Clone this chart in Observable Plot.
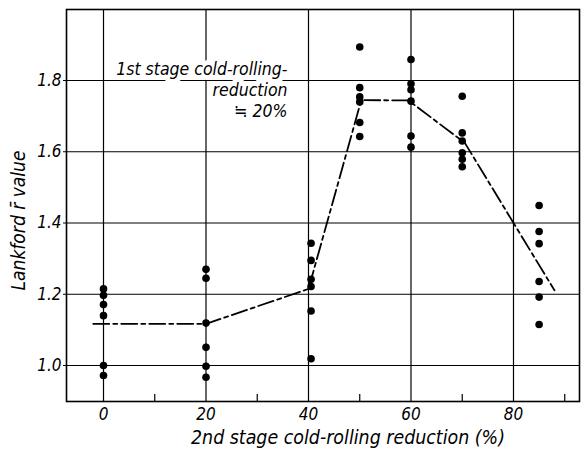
<!DOCTYPE html>
<html><head><meta charset="utf-8">
<script src="https://cdn.jsdelivr.net/npm/d3@7"></script>
<script src="https://cdn.jsdelivr.net/npm/@observablehq/plot@0.6"></script>
<style>body{margin:0;background:#fff}</style>
</head><body><div id="chart"></div>
<script>
// ---- data ----
const reductions = [0, 20, 40.5, 50, 60, 70, 85];
const rValues = [
  [1.215, 1.197, 1.171, 1.140, 1.000, 0.972],
  [1.270, 1.245, 1.119, 1.051, 0.998, 0.967],
  [1.343, 1.295, 1.242, 1.222, 1.153, 1.019],
  [1.894, 1.780, 1.754, 1.740, 1.682, 1.643],
  [1.859, 1.791, 1.774, 1.742, 1.644, 1.613],
  [1.756, 1.653, 1.630, 1.597, 1.579, 1.558],
  [1.449, 1.376, 1.342, 1.236, 1.192, 1.115]
];
const trendX = [-2, 20, 40, 50.3, 59.5, 70.5, 88];
const trendY = [1.117, 1.117, 1.215, 1.745, 1.744, 1.625, 1.211];
const xTicks = [0, 20, 40, 60, 80];
const xMinorTicks = [10, 30, 50, 70, 90];
const yTicks = [1.0, 1.2, 1.4, 1.6, 1.8];
const noteLines = ["1st stage cold-rolling-", "reduction", "≒ 20%"];
const xTitle = "2nd stage cold-rolling reduction (%)";
const yTitle = "Lankford r\u0304 value";

// ---- tables ----
const points = reductions.flatMap((x, i) => rValues[i].map(r => ({x, r})));
const trend = trendX.map((x, i) => ({x, r: trendY[i]}));

const FONT = "'Liberation Sans Narrow','DejaVu Sans Condensed','Liberation Sans',sans-serif";

const chart = Plot.plot({
  width: 583,
  height: 453,
  marginLeft: 66,
  marginRight: 4,
  marginTop: 9,
  marginBottom: 52,
  style: {fontFamily: FONT, fontStyle: "italic", fontSize: "16px", color: "black", background: "white"},
  x: {domain: [-7.22, 92.88]},
  y: {domain: [0.899, 1.9993]},
  marks: [
    Plot.gridX(xTicks, {stroke: "black", strokeOpacity: 1, strokeWidth: 1.2}),
    Plot.gridY(yTicks, {stroke: "black", strokeOpacity: 1, strokeWidth: 1.2}),
    Plot.axisX(xTicks, {tickSize: 0, tickPadding: 6, fontSize: 17, label: null}),
    Plot.axisX(xMinorTicks, {tickSize: -7, tickFormat: () => "", label: null, strokeWidth: 1.2}),
    Plot.axisY(yTicks, {tickSize: 3, tickPadding: 2, fontSize: 17, tickFormat: d3.format(".1f"), label: null}),
    Plot.frame({stroke: "black", strokeWidth: 1.6}),
    Plot.text([noteLines.join("\n")], {
      frameAnchor: "top-left", dx: 221, dy: 50, textAnchor: "end", lineAnchor: "top",
      lineHeight: 1.22, fontSize: 17.5, fill: "black", stroke: "white", strokeWidth: 10
    }),
    Plot.line(trend, {x: "x", y: "r", stroke: "black", strokeWidth: 1.8, strokeDasharray: "16,4,4,4"}),
    Plot.dot(points, {x: "x", y: "r", r: 3.8, fill: "black"}),
    Plot.text([xTitle], {frameAnchor: "bottom", dx: 25, dy: 42, fontSize: 19, fill: "black"}),
    Plot.text([yTitle], {frameAnchor: "left", textAnchor: "middle", dx: -48, dy: 15, rotate: -90, fontSize: 19, fill: "black"})
  ]
});
const svg = d3.select(chart);
svg.selectAll("text").filter(function () { return this.textContent === xTitle; })
  .attr("textLength", 314).attr("lengthAdjust", "spacingAndGlyphs");
svg.selectAll("text").filter(function () { return this.textContent === yTitle; })
  .attr("textLength", 140).attr("lengthAdjust", "spacingAndGlyphs");
document.getElementById("chart").appendChild(chart);
</script>
</body></html>
